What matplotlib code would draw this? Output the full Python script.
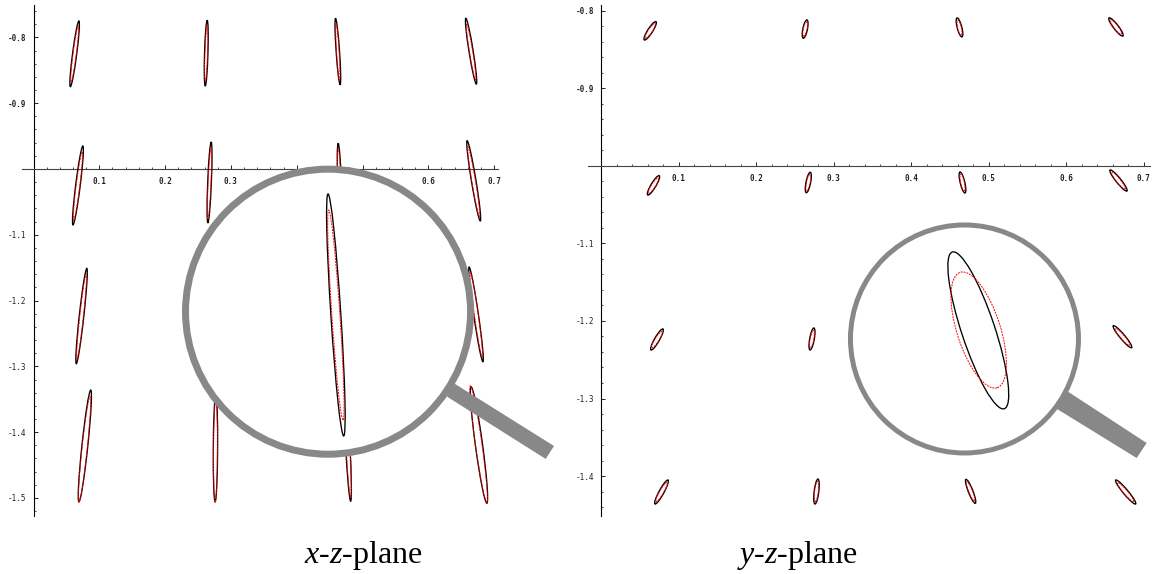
import numpy as np
import matplotlib
matplotlib.use('Agg')
import matplotlib.pyplot as plt
from matplotlib.patches import Ellipse, Circle, Polygon

plt.rcParams['mathtext.fontset'] = 'custom'
plt.rcParams['mathtext.rm'] = 'Liberation Serif'
plt.rcParams['mathtext.it'] = 'Liberation Serif:italic'

x_ticks = [0.1, 0.2, 0.3, 0.4, 0.5, 0.6, 0.7]
xz_z_ticks = [-0.8, -0.9, -1.1, -1.2, -1.3, -1.4, -1.5]
yz_z_ticks = [-0.8, -0.9, -1.1, -1.2, -1.3, -1.4]

# x-z plane, ellipse ends (top x, top z, bottom x, bottom z) and half width
xz_black_x_top = [.069, .264, .459, .657, .075, .270, .463, .659, .081, .271, .469, .662, .087, .277, .473, .665]
xz_black_z_top = [-.775, -.774, -.771, -.771, -.965, -.959, -.961, -.957, -1.151, -1.146, -1.146, -1.149, -1.336, -1.344, -1.333, -1.331]
xz_black_x_bot = [.056, .261, .466, .673, .060, .265, .467, .679, .065, .268, .475, .683, .069, .276, .482, .689]
xz_black_z_bot = [-.875, -.874, -.872, -.871, -1.085, -1.082, -1.082, -1.079, -1.296, -1.298, -1.295, -1.293, -1.506, -1.506, -1.505, -1.508]
xz_black_hw = [.0032, .0026, .0026, .0032, .0035, .0028, .0028, .0035, .0035, .0028, .0028, .0036, .0045, .0033, .0033, .0055]

xz_red_x_top = [.068, .264, .460, .658, .074, .270, .463, .660, .080, .271, .470, .664, .086, .277, .474, .664]
xz_red_z_top = [-.783, -.781, -.779, -.779, -.974, -.966, -.968, -.966, -1.160, -1.154, -1.154, -1.158, -1.346, -1.352, -1.341, -1.329]
xz_red_x_bot = [.057, .261, .465, .672, .061, .265, .467, .678, .066, .268, .475, .682, .069, .276, .482, .689]
xz_red_z_bot = [-.868, -.867, -.866, -.865, -1.078, -1.076, -1.076, -1.073, -1.289, -1.291, -1.288, -1.286, -1.506, -1.506, -1.500, -1.508]
xz_red_hw = [.0025, .0020, .0020, .0025, .0028, .0022, .0022, .0028, .0028, .0022, .0022, .0030, .0040, .0030, .0030, .0050]

# y-z plane, same layout
yz_black_x_top = [.0706, .2654, .4590, .6551, .0748, .2697, .4628, .6564, .0796, .2744, .4693, .6606, .0861, .2796, .4705, .6637]
yz_black_z_top = [-.8138, -.8116, -.8090, -.8090, -1.0125, -1.0081, -1.0077, -1.0052, -1.2103, -1.2090, -1.2052, -1.2061, -1.4052, -1.4039, -1.4043, -1.4052]
yz_black_x_bot = [.0555, .2606, .4654, .6731, .0599, .2645, .4693, .6783, .0641, .2693, .4757, .6844, .0693, .2757, .4826, .6895]
yz_black_z_bot = [-.8374, -.8352, -.8335, -.8323, -1.0374, -1.0345, -1.0348, -1.0323, -1.2374, -1.2374, -1.2374, -1.2345, -1.4361, -1.4361, -1.4352, -1.4361]
yz_black_hw = [.0032, .0030, .0030, .0032, .0032, .0030, .0030, .0032, .0032, .0030, .0030, .0032, .0032, .0030, .0030, .0032]

yz_red_x_top = [.0695, .2650, .4600, .6570, .0737, .2692, .4638, .6585, .0785, .2740, .4703, .6630, .0850, .2790, .4715, .6660]
yz_red_z_top = [-.8165, -.8145, -.8120, -.8115, -1.0155, -1.0110, -1.0105, -1.0080, -1.2135, -1.2120, -1.2085, -1.2095, -1.4085, -1.4070, -1.4075, -1.4085]
yz_red_x_bot = [.0567, .2610, .4644, .6710, .0610, .2650, .4683, .6760, .0652, .2697, .4747, .6820, .0705, .2762, .4816, .6870]
yz_red_z_bot = [-.8350, -.8325, -.8310, -.8298, -1.0350, -1.0320, -1.0322, -1.0298, -1.2345, -1.2345, -1.2345, -1.2315, -1.4330, -1.4330, -1.4322, -1.4332]
yz_red_hw = [.0026, .0024, .0024, .0026, .0026, .0024, .0024, .0026, .0026, .0024, .0024, .0026, .0026, .0024, .0024, .0026]

lens_grey = '#888888'


def draw_ellipse(ax, x_top, z_top, x_bot, z_bot, hw, color, red=False, zorder=3):
    length = np.hypot(x_top - x_bot, z_top - z_bot)
    tilt = np.degrees(np.arctan2(x_top - x_bot, z_top - z_bot))
    e = Ellipse(((x_top + x_bot) / 2, (z_top + z_bot) / 2), 2 * hw, length, angle=-tilt,
                fill=False, edgecolor=color, linewidth=0.7 if red else 0.95,
                linestyle=(0, (2, 1)) if red else '-', zorder=zorder, clip_on=False)
    ax.add_patch(e)


def setup_axes(ax, z_ticks, xlim, ylim):
    ax.spines['left'].set_position(('data', 0))
    ax.spines['bottom'].set_position(('data', -1))
    ax.spines['right'].set_visible(False)
    ax.spines['top'].set_visible(False)
    ax.spines['left'].set_linewidth(0.8)
    ax.spines['bottom'].set_linewidth(0.8)
    ax.spines['bottom'].set_color('#444444')
    ax.patch.set_alpha(0)
    ax.set_xticks(x_ticks)
    ax.set_xticklabels(['%.1f' % t for t in x_ticks])
    ax.set_yticks(z_ticks)
    ax.set_yticklabels(['%.1f' % t for t in z_ticks])
    ax.set_xticks(np.arange(0.02, 0.71, 0.02), minor=True)
    ax.set_yticks(np.arange(-1.52, -0.75, 0.02), minor=True)
    # setting ticks widens the limits, so put them back afterwards
    ax.set_xlim(*xlim)
    ax.set_ylim(*ylim)
    ax.tick_params(axis='x', which='major', direction='in', length=2.6, width=0.6, pad=5.5, labelsize=5.5)
    ax.tick_params(axis='x', which='minor', direction='in', length=1.6, width=0.5)
    ax.tick_params(axis='y', which='major', direction='in', length=2.6, width=0.6, pad=5, labelsize=5.5)
    ax.tick_params(axis='y', which='minor', direction='in', length=1.6, width=0.5)
    for label in ax.get_xticklabels() + ax.get_yticklabels():
        label.set_family('DejaVu Sans Mono')
        label.set_color('#222222')
        if label.get_text().lstrip('-').startswith('0'):
            label.set_weight('bold')


def draw_lens(ax, center, radius, ring_px, handle, black_ends, black_hw, red_ends, red_hw):
    ax.add_patch(Polygon(handle, closed=True, facecolor=lens_grey, edgecolor='none', zorder=5, clip_on=False))
    ax.add_patch(Circle(center, radius, facecolor='white', edgecolor=lens_grey,
                        linewidth=ring_px * 0.72, zorder=6, clip_on=False))
    draw_ellipse(ax, *black_ends, black_hw, 'black', zorder=7)
    draw_ellipse(ax, *red_ends, red_hw, 'red', red=True, zorder=8)


fig = plt.figure(figsize=(11.56, 5.74), dpi=100)
W, H = 1156.0, 574.0

ax1 = fig.add_axes([22 / W, 1 - 516 / H, 476 / W, 511 / H])
setup_axes(ax1, xz_z_ticks, (-0.0175, 0.7059), (-1.5274, -0.7508))
for i in range(16):
    draw_ellipse(ax1, xz_black_x_top[i], xz_black_z_top[i], xz_black_x_bot[i], xz_black_z_bot[i], xz_black_hw[i], 'black')
    draw_ellipse(ax1, xz_red_x_top[i], xz_red_z_top[i], xz_red_x_bot[i], xz_red_z_bot[i], xz_red_hw[i], 'red', red=True, zorder=4)
draw_lens(ax1, (.4476, -1.2169), .2166, 7,
          [(.6375, -1.3248), (.6284, -1.3460), (.7784, -1.4407), (.7910, -1.4210)],
          (.4476, -1.0380, .4714, -1.4058), .0076,
          (.4486, -1.0623, .4704, -1.3815), .0061)

ax2 = fig.add_axes([588 / W, 1 - 516 / H, 562 / W, 511 / H])
setup_axes(ax2, yz_z_ticks, (-0.01716, 0.708), (-1.4516, -0.7923))
for i in range(16):
    draw_ellipse(ax2, yz_black_x_top[i], yz_black_z_top[i], yz_black_x_bot[i], yz_black_z_bot[i], yz_black_hw[i], 'black')
    draw_ellipse(ax2, yz_red_x_top[i], yz_red_z_top[i], yz_red_x_bot[i], yz_red_z_bot[i], yz_red_hw[i], 'red', red=True, zorder=4)
draw_lens(ax2, (.4686, -1.2232), .1471, 5,
          [(.6022, -1.2912), (.5880, -1.3135), (.6908, -1.3768), (.7037, -1.3574)],
          (.4529, -1.1110, .5200, -1.3132), .0215,
          (.4631, -1.1372, .5108, -1.2861), .0280)

fig.text(363.5 / W, 1 - 555 / H, r'$x$-$z$-plane', fontsize=23, ha='center', va='center', family='Liberation Serif')
fig.text(797 / W, 1 - 555 / H, r'$y$-$z$-plane', fontsize=23, ha='center', va='center', family='Liberation Serif')

fig.savefig('out.png', dpi=100)
